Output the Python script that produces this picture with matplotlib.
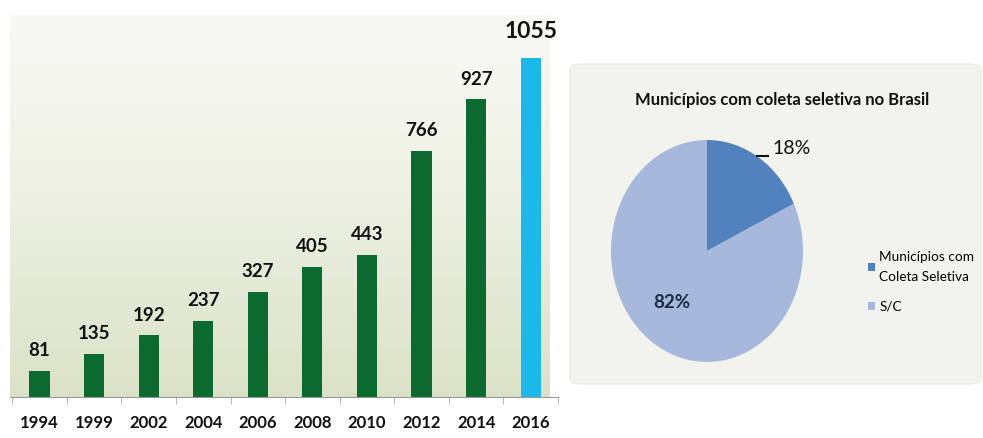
import matplotlib

matplotlib.use("Agg")
import matplotlib.pyplot as plt
import numpy as np
from matplotlib.patches import FancyBboxPatch, Patch

plt.rcParams["font.family"] = ["Lato", "DejaVu Sans"]

# Data
years = ["1994", "1999", "2002", "2004", "2006", "2008", "2010", "2012", "2014", "2016"]
municipios = [81, 135, 192, 237, 327, 405, 443, 766, 927, 1055]
pie_labels = ["Municípios com\nColeta Seletiva", "S/C"]
pie_shares = [18, 82]
pie_title = "Municípios com coleta seletiva no Brasil"

GREEN = "#0b6b2e"
CYAN = "#1bb9ea"
PIE_COLORS = ["#5182bd", "#a6b9dc"]

W, H = 983, 438
fig = plt.figure(figsize=(W / 100, H / 100), dpi=100)
fig.patch.set_facecolor("white")


def px(x0, y0, x1, y1):
    """Pixel box (top-left origin) -> figure fraction rect."""
    return [x0 / W, 1 - y1 / H, (x1 - x0) / W, (y1 - y0) / H]


# ---- bar chart --------------------------------------------------------
ax = fig.add_axes(px(10, 15, 558, 397))
grad = np.linspace(0, 1, 256).reshape(-1, 1)
top_c = np.array([0.975, 0.975, 0.955])
bot_c = np.array([0.855, 0.885, 0.780])
img = top_c + (bot_c - top_c) * grad[..., None] ** 1.3
ax.imshow(img, extent=[-0.54, 9.34, 0, 1189], aspect="auto", origin="upper", zorder=0)

x = np.arange(len(years))
colors = [GREEN] * (len(years) - 1) + [CYAN]
ax.bar(x, municipios, width=0.37, color=colors, zorder=2)

for i, v in enumerate(municipios):
    last = i == len(municipios) - 1
    ax.text(i, v + (50 if last else 36), str(v), ha="center", va="bottom",
            fontsize=16.5 if last else 13.5, fontweight="bold", color="#111111")

ax.set_xlim(-0.54, 9.34)
ax.set_ylim(0, 1189)
for s in ["top", "right", "left"]:
    ax.spines[s].set_visible(False)
ax.spines["bottom"].set_color("#999999")
ax.set_yticks([])
ax.set_xticks(x, years)
ax.tick_params(axis="x", length=0, pad=13, labelsize=12, labelcolor="#111111")
for lbl in ax.get_xticklabels():
    lbl.set_fontweight("bold")
ax.set_xticks(np.arange(-0.5, 9.6, 1.0), minor=True)
ax.tick_params(axis="x", which="minor", length=5, color="#aaaaaa")

# ---- pie panel --------------------------------------------------------
panel = FancyBboxPatch((570 / W, 1 - 384 / H), (W - 572) / W, (384 - 64) / H,
                       boxstyle="round,pad=0,rounding_size=0.012",
                       transform=fig.transFigure, facecolor="#f3f3ee",
                       edgecolor="#ececE6", zorder=-1)
fig.patches.append(panel)

fig.text(782 / W, 1 - 100 / H, pie_title, ha="center", va="center",
         fontsize=12, fontweight="bold", color="#111111")

pax = fig.add_axes(px(611, 140, 803, 362))
wedges, _ = pax.pie(pie_shares, colors=PIE_COLORS, startangle=90,
                    counterclock=False, wedgeprops=dict(linewidth=0))
pax.set_aspect("auto")
pax.set_xlim(-1, 1)
pax.set_ylim(-1, 1)

fig.text(792 / W, 1 - 149 / H, f"{pie_shares[0]}%", ha="center", va="center",
         fontsize=14, color="#111111")
fig.add_artist(plt.Line2D([757 / W, 768 / W], [1 - 156 / H, 1 - 156 / H],
                          transform=fig.transFigure, color="#111111", lw=1.5))
fig.text(672 / W, 1 - 303 / H, f"{pie_shares[1]}%", ha="center", va="center",
         fontsize=13.5, fontweight="bold", color="#1c2a44")

handles = [Patch(facecolor=c, edgecolor="none") for c in PIE_COLORS]
leg = fig.legend(handles, pie_labels, loc="upper left",
                 bbox_to_anchor=(861 / W, 1 - 244 / H), frameon=False,
                 fontsize=9.8, handlelength=0.55, handleheight=0.55,
                 handletextpad=0.3, labelspacing=1.3, borderpad=0)
for t in leg.get_texts():
    t.set_linespacing(1.8)

fig.savefig("out.png", dpi=100)
